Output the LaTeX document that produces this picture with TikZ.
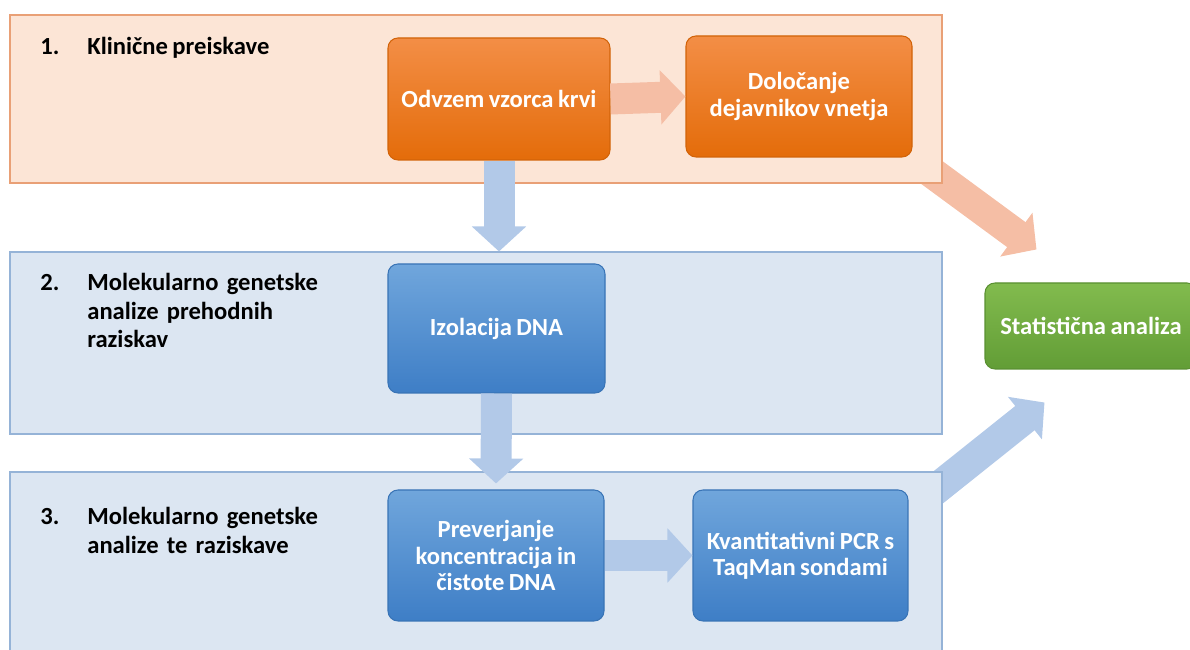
\documentclass[tikz,border=0pt]{standalone}
\usepackage{fontspec}
\setmainfont{Carlito}[WordSpace=0.8]
\usepackage{xcolor}
\usetikzlibrary{positioning,calc,arrows.meta}

\definecolor{panelorange}{RGB}{252,229,214}
\definecolor{panelorangeline}{RGB}{233,160,118}
\definecolor{panelblue}{RGB}{220,230,242}
\definecolor{panelblueline}{RGB}{149,179,215}
\definecolor{orangetop}{RGB}{243,142,70}
\definecolor{orangebot}{RGB}{228,108,10}
\definecolor{bluetop}{RGB}{112,166,220}
\definecolor{bluebot}{RGB}{62,126,198}
\definecolor{greentop}{RGB}{130,187,78}
\definecolor{greenbot}{RGB}{98,157,54}
\definecolor{arroworange}{RGB}{245,190,165}
\definecolor{arrowblue}{RGB}{178,201,232}

\pgfdeclarelayer{back}
\pgfsetlayers{back,main}

\begin{document}
	\begin{tikzpicture}[
		panelA/.style={draw=panelorangeline, fill=panelorange, line width=0.6pt, inner sep=0pt},
		panelB/.style={draw=panelblueline, fill=panelblue, line width=0.6pt, inner sep=0pt},
		stepbox/.style={rounded corners=0.2cm, line width=0.6pt, text=white, align=center, inner sep=2pt,
			font=\fontsize{14}{15}\selectfont\bfseries},
		orangebox/.style={stepbox, draw=orangebot!92!black, top color=orangetop, bottom color=orangebot},
		bluebox/.style={stepbox, draw=bluebot!92!black, top color=bluetop, bottom color=bluebot},
		greenbox/.style={stepbox, draw=greenbot!92!black, top color=greentop, bottom color=greenbot},
		lbl/.style={inner sep=0pt, anchor=base west, align=left, font=\fontsize{14}{16}\selectfont\bfseries},
		bigarrow/.style={line width=0.62cm, -{Triangle[width=1.06cm,length=0.5cm]}},
		]
		
		\useasboundingbox (0,0) rectangle (23.8,13);
		\clip (0,0) rectangle (23.8,13);
		
		\node[panelA, minimum width=18.64cm, minimum height=3.36cm] (panel1) at (9.52,11.02) {};
		\node[panelB, minimum width=18.64cm, minimum height=3.64cm] (panel2) at (9.52,6.14) {};
		\node[panelB, minimum width=18.64cm, minimum height=3.66cm] (panel3) at (9.52,1.73) {};
		
		\node[lbl] (num1) at (0.8,11.91) {1.};
		\node[lbl] (lab1) at (1.74,11.91) {Klinične preiskave};
		\node[lbl] (num2) at (0.8,7.18) {2.};
		\node[lbl, text width=6cm] (lab2) at (1.74,7.18) {Molekularno genetske\\analize prehodnih\\raziskav};
		\node[lbl] (num3) at (0.8,2.5) {3.};
		\node[lbl, text width=6cm] (lab3) at (1.74,2.5) {Molekularno genetske\\analize te raziskave};
		
		\node[orangebox, minimum width=4.44cm, minimum height=2.44cm] (odvzem) at (9.98,11.02) {Odvzem vzorca krvi};
		\node[orangebox, minimum width=4.52cm, minimum height=2.42cm] (dolocanje) at (15.98,11.07) {Določanje\\dejavnikov vnetja};
		\node[bluebox, minimum width=4.34cm, minimum height=2.58cm] (izolacija) at (9.93,6.43) {Izolacija DNA};
		\node[bluebox, minimum width=4.32cm, minimum height=2.62cm] (preverjanje) at (9.92,1.89) {Preverjanje\\koncentracija in\\čistote DNA};
		\node[bluebox, minimum width=4.30cm, minimum height=2.62cm] (kvant) at (16.01,1.89) {Kvantitativni PCR s\\TaqMan sondami};
		\node[greenbox, minimum width=4.24cm, minimum height=1.72cm] (statistika) at (21.82,6.48) {Statistična analiza};
		
		\coordinate (tip1) at ($(statistika.north west)+(1.04,0.66)$);
		\coordinate (tip2) at ($(statistika.south west)+(1.2,-0.66)$);
		
		\begin{pgfonlayer}{back}
			\draw[bigarrow, arroworange] ([shift={(-0.54,0.46)}]panel1.south east) -- (tip1);
			\draw[bigarrow, arrowblue] ([shift={(-0.44,-0.6)}]panel3.north east) -- (tip2);
		\end{pgfonlayer}
		
		\draw[bigarrow, arroworange] (odvzem.east) -- (dolocanje.west);
		\draw[bigarrow, arrowblue] (odvzem.south) -- (odvzem.south |- panel2.north);
		\draw[bigarrow, arrowblue] (izolacija.south) -- ([yshift=0.12cm]preverjanje.north);
		\draw[bigarrow, arrowblue] (preverjanje.east) -- (kvant.west);
		
	\end{tikzpicture}
\end{document}
